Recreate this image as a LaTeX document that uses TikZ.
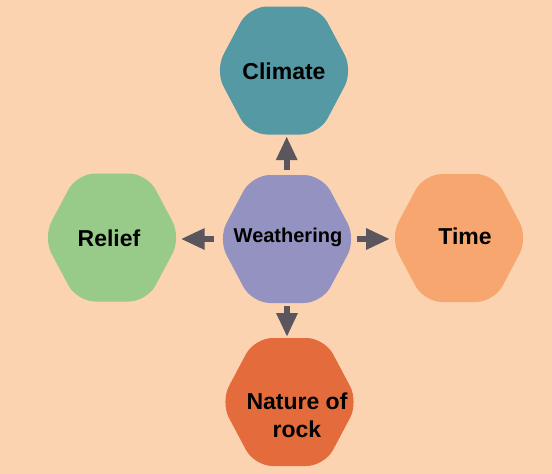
\documentclass[tikz,border=0pt]{standalone}
\usepackage{fontspec}
\setmainfont{Liberation Sans}
\usetikzlibrary{arrows.meta}
\definecolor{bgc}{HTML}{FCD3B1}
\definecolor{climc}{HTML}{5499A3}
\definecolor{weac}{HTML}{9492C1}
\definecolor{timec}{HTML}{F6A66E}
\definecolor{relc}{HTML}{98CA8A}
\definecolor{rockc}{HTML}{E46C3C}
\definecolor{arrc}{HTML}{5B555E}
\tikzset{
  hexbox/.style={draw=none, fill=none, inner sep=0pt, minimum width=132pt, minimum height=128pt},
  lbl/.style={font=\bfseries\fontsize{23}{28}\selectfont, text=black, align=center, inner sep=0pt},
  blockarrow/.style={draw=arrc, line width=6pt, -{Triangle[width=20pt,length=24pt]}},
  hexfill/.style={rounded corners=18pt}
}
\newcommand\hexshape[3]{%
  \fill[hexfill,#3] (#1-69,#2) -- (#1-35,#2-64) -- (#1+35,#2-64) -- (#1+69,#2) -- (#1+35,#2+64) -- (#1-35,#2+64) -- cycle;}
\begin{document}
\begin{tikzpicture}[x=1pt,y=-1pt]
\fill[bgc] (0,0) rectangle (552,474);
\useasboundingbox (0,0) rectangle (552,474);
% hexagons
\hexshape{284}{70.5}{climc}
\hexshape{287}{239}{weac}
\hexshape{459}{238}{timec}
\hexshape{112}{237.5}{relc}
\hexshape{289.5}{402}{rockc}
% anchor boxes
\node[hexbox] (cli) at (284,70.5) {};
\node[hexbox] (wea) at (287,239) {};
\node[hexbox] (tim) at (459,238) {};
\node[hexbox] (rel) at (112,237.5) {};
\node[hexbox] (roc) at (289.5,402) {};
% labels
\node[lbl] (cliT) at (284,71) {Climate};
\node[lbl, font=\bfseries\fontsize{20}{24}\selectfont] (weaT) at (288,237) {Weathering};
\node[lbl] (timT) at (465,236) {Time};
\node[lbl] (relT) at (109,238) {Relief};
\node[lbl] (rocT) at (297,415) {Nature of\\rock};
% arrows
\draw[blockarrow, shorten <=5pt, shorten >=1.5pt] (wea.north -| 286.7,0) -- (cli.south -| 286.7,0);
\coordinate (wl) at (214,239);
\coordinate (rl) at (180.7,239);
\draw[blockarrow] (wl) -- (rl);
\coordinate (wr) at (356.7,239);
\coordinate (tl) at (390,239);
\draw[blockarrow] (wr) -- (tl);
\coordinate (wd) at (287,306);
\coordinate (rt) at (287,337);
\draw[blockarrow] (wd) -- (rt);
\end{tikzpicture}
\end{document}
